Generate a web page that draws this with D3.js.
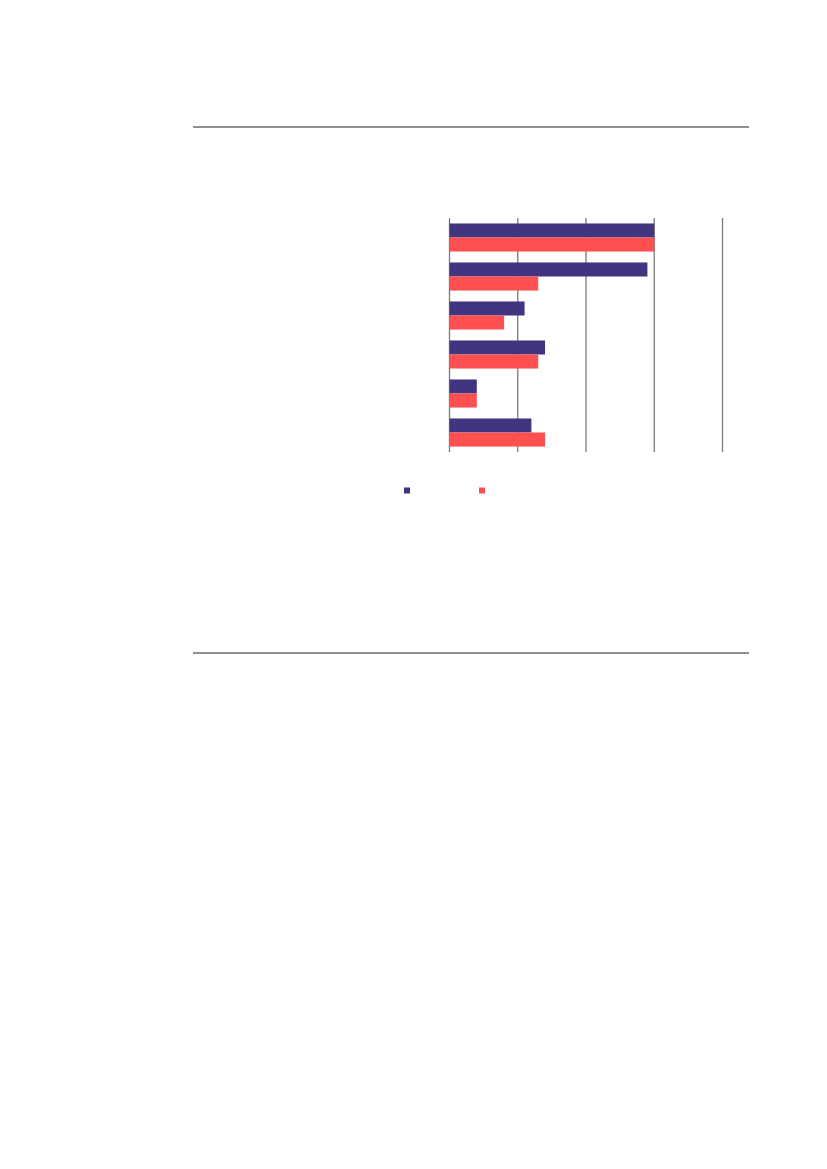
<!DOCTYPE html>
<html><head><meta charset="utf-8">
<script src="https://cdn.jsdelivr.net/npm/d3@7"></script>
<style>body{margin:0;background:#fff}svg{display:block}</style>
</head><body>
<svg id="c" width="827" height="1169"></svg>
<script>
const categories = ["A","B","C","D","E","F"];
const seriesNames = ["Series 1","Series 2"];
const series1 = [3.0, 2.9, 1.1, 1.4, 0.4, 1.2];
const series2 = [3.0, 1.3, 0.8, 1.3, 0.4, 1.4];
const tickValues = [0,1,2,3,4];
const colors = ["#423580","#fe5050"];

const svg = d3.select("#c");
const x = d3.scaleLinear().domain([0,4]).range([449.5,722.5]);
const y = d3.scaleBand().domain(categories).range([218,452]).paddingInner(0.28).paddingOuter(0.14);
const ySub = d3.scaleBand().domain(seriesNames).range([0,y.bandwidth()]);

// horizontal rules
svg.append("line").attr("x1",193).attr("x2",749).attr("y1",127).attr("y2",127).attr("stroke","#6b6b6b").attr("stroke-width",1.5);
svg.append("line").attr("x1",193).attr("x2",749).attr("y1",653).attr("y2",653).attr("stroke","#6b6b6b").attr("stroke-width",1.5);

// gridlines
const g = svg.append("g").attr("transform","translate(-0.5,452)")
  .call(d3.axisBottom(x).tickValues(tickValues).tickSize(-(452-218)).tickFormat(""));
g.select(".domain").remove();
g.selectAll(".tick line").attr("stroke","#7a7a7a").attr("stroke-width",1.3);

const data = categories.map((c,i)=>({c, vals:[series1[i],series2[i]]}));
const grp = svg.append("g").selectAll("g").data(data).join("g")
  .attr("transform",d=>`translate(0,${y(d.c)})`);
grp.selectAll("rect").data(d=>d.vals.map((v,j)=>({v,j}))).join("rect")
  .attr("x",x(0)).attr("y",d=>ySub(seriesNames[d.j]))
  .attr("width",d=>x(d.v)-x(0)).attr("height",ySub.bandwidth())
  .attr("fill",d=>colors[d.j]);

// legend
const legendX = [404, 479];
seriesNames.forEach((s,i)=>{
  svg.append("rect").attr("x",legendX[i]).attr("y",487.5).attr("width",6).attr("height",6).attr("fill",colors[i]);
});
</script>
</body></html>
